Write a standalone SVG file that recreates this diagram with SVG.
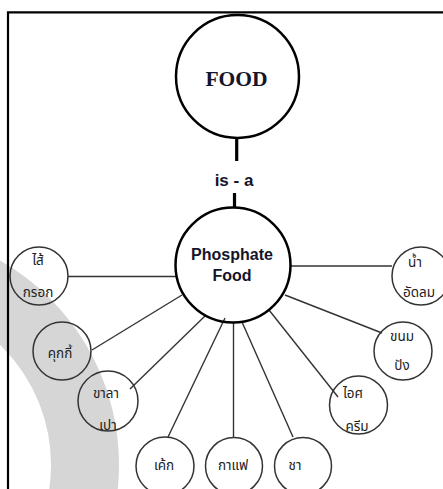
<svg xmlns="http://www.w3.org/2000/svg" width="443" height="489" viewBox="0 0 443 489">
  <style>
    .big { fill: none; stroke: #000; stroke-width: 2.5; }
    .leaf { fill: none; stroke: #333; stroke-width: 1.5; }
    .link { stroke: #333; stroke-width: 1.4; fill: none; }
    .thick { stroke: #000; stroke-width: 3.2; }
    .th { font-family: "Noto Sans Thai", "Noto Sans", "DejaVu Sans", sans-serif; font-size: 13.5px; fill: #222; text-anchor: middle; }
    .lbl { font-family: "Liberation Sans", Arial, sans-serif; font-weight: bold; fill: #14142a; text-anchor: middle; }
  </style>

  <!-- background band -->
  <circle cx="-116" cy="465" r="201" fill="none" stroke="#d6d6d6" stroke-width="68"/>

  <!-- frame -->
  <path d="M8 489 V12.3 H443" fill="none" stroke="#000" stroke-width="2.2"/>

  <!-- connectors -->
  <g id="connectors">
    <line class="thick" x1="236.7" y1="138" x2="236.7" y2="161"/>
    <text class="lbl" x="234" y="186" font-size="17">is - a</text>
    <line class="thick" x1="234.5" y1="193" x2="234.5" y2="208"/>
    <line class="link" x1="68" y1="276.5" x2="176" y2="276.5"/>
    <line class="link" x1="291" y1="266" x2="392" y2="266"/>
    <line class="link" x1="182" y1="295" x2="92" y2="350"/>
    <line class="link" x1="205" y1="316" x2="130" y2="389"/>
    <line class="link" x1="225" y1="318" x2="168" y2="437"/>
    <line class="link" x1="233.5" y1="322" x2="233.5" y2="437.5"/>
    <line class="link" x1="242" y1="322" x2="293" y2="437"/>
    <line class="link" x1="269" y1="310" x2="338" y2="397"/>
    <line class="link" x1="285" y1="295" x2="382" y2="333"/>
  </g>

  <g id="food">
    <circle class="big" cx="237.5" cy="76.5" r="61.5"/>
    <text x="236.5" y="86" font-family="Liberation Serif, 'Times New Roman', serif" font-weight="bold" font-size="21.5" fill="#14142a" text-anchor="middle">FOOD</text>
  </g>

  <g id="phosphate-food">
    <circle class="big" cx="233" cy="265" r="57.5"/>
    <text class="lbl" x="232" y="260" font-size="16">Phosphate</text>
    <text class="lbl" x="232" y="280.5" font-size="16">Food</text>
  </g>

  <g id="sausage">
    <circle class="leaf" cx="39" cy="276" r="29"/>
    <text class="th" x="38" y="265">ไส้</text>
    <text class="th" x="38" y="297">กรอก</text>
  </g>

  <g id="soda">
    <circle class="leaf" cx="421" cy="276" r="29"/>
    <text class="th" x="415" y="267">น้ำ</text>
    <text class="th" x="419" y="297">อัดลม</text>
  </g>

  <g id="cookie">
    <circle class="leaf" cx="62" cy="351" r="29"/>
    <text class="th" x="60" y="358">คุกกี้</text>
  </g>

  <g id="salapao">
    <circle class="leaf" cx="108" cy="401" r="30"/>
    <text class="th" x="106" y="398">ขาลา</text>
    <text class="th" x="108" y="430">เปา</text>
  </g>

  <g id="cake">
    <circle class="leaf" cx="165" cy="466" r="29"/>
    <text class="th" x="164" y="470">เค้ก</text>
  </g>

  <g id="coffee">
    <circle class="leaf" cx="234" cy="466" r="28.5"/>
    <text class="th" x="233" y="470">กาแฟ</text>
  </g>

  <g id="tea">
    <circle class="leaf" cx="303" cy="466" r="28.5"/>
    <text class="th" x="295" y="470">ชา</text>
  </g>

  <g id="ice-cream">
    <circle class="leaf" cx="358.5" cy="405" r="29"/>
    <text class="th" x="353" y="398">ไอศ</text>
    <text class="th" x="357" y="431">ครีม</text>
  </g>

  <g id="bread">
    <circle class="leaf" cx="403" cy="351" r="29"/>
    <text class="th" x="402" y="341">ขนม</text>
    <text class="th" x="402" y="370">ปัง</text>
  </g>
</svg>
